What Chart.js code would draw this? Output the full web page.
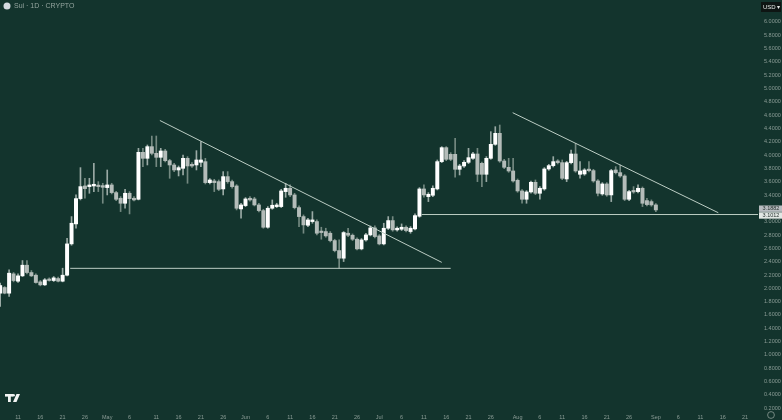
<!DOCTYPE html>
<html>
<head>
<meta charset="utf-8">
<script src="https://cdn.jsdelivr.net/npm/chart.js@4"></script>
<style>
html, body { margin: 0; padding: 0; background: #13342d; overflow: hidden; }
#wrap { width: 782px; height: 420px; }
/* the reference is a soft, rescaled screenshot */
#chart { filter: blur(0.4px); }
</style>
</head>
<body>
<div id="wrap"><canvas id="chart" width="782" height="420"></canvas></div>
<script>
// daily candles, first one is 7 Apr, day numbers count from 11 Apr
var firstDay = -4;
var opens = [1.927,2.012,1.927,2.217,2.107,2.187,2.347,2.237,2.197,2.097,2.052,2.137,2.117,2.147,2.107,2.197,2.667,2.967,3.347,3.537,3.527,3.537,3.547,3.542,3.512,3.552,3.437,3.352,3.277,3.427,3.352,3.337,4.042,3.952,4.127,4.027,3.967,4.062,3.917,3.852,3.777,3.802,3.952,3.862,3.852,3.892,3.902,3.587,3.612,3.602,3.492,3.677,3.602,3.537,3.192,3.242,3.352,3.342,3.252,3.167,2.917,3.202,3.227,3.227,3.452,3.502,3.402,3.212,3.077,2.947,3.002,3.002,2.852,2.852,2.827,2.717,2.567,2.452,2.827,2.797,2.737,2.592,2.727,2.802,2.907,2.787,2.667,2.902,3.017,2.877,2.887,2.917,2.852,2.892,3.082,3.492,3.377,3.397,3.492,3.902,4.112,4.012,4.012,3.787,3.837,3.892,3.952,4.017,3.877,3.712,3.952,4.162,4.327,3.912,3.817,3.762,3.622,3.462,3.337,3.447,3.592,3.427,3.492,3.792,3.842,3.912,3.887,3.642,3.887,4.017,3.712,3.717,3.787,3.767,3.612,3.417,3.567,3.402,3.777,3.737,3.687,3.337,3.467,3.452,3.502,3.317,3.302,3.252];
var closes = [2.042,1.927,2.227,2.117,2.187,2.347,2.237,2.187,2.087,2.052,2.127,2.117,2.157,2.107,2.197,2.667,2.977,3.347,3.527,3.497,3.552,3.562,3.527,3.517,3.552,3.437,3.337,3.277,3.427,3.347,3.327,4.042,3.952,4.127,4.027,3.967,4.062,3.917,3.852,3.777,3.812,3.952,3.837,3.837,3.927,3.927,3.587,3.627,3.587,3.487,3.677,3.602,3.527,3.202,3.252,3.342,3.327,3.252,3.167,2.917,3.202,3.247,3.252,3.462,3.502,3.402,3.212,3.077,2.952,3.027,3.027,2.827,2.837,2.787,2.717,2.567,2.452,2.837,2.797,2.737,2.592,2.727,2.802,2.907,2.777,2.667,2.902,3.017,2.877,2.902,2.917,2.867,2.902,3.092,3.492,3.402,3.412,3.502,3.902,4.112,3.937,3.937,3.787,3.837,3.892,3.962,4.017,3.712,3.712,3.952,4.162,4.327,3.912,3.817,3.762,3.612,3.462,3.337,3.447,3.592,3.427,3.502,3.792,3.842,3.902,3.887,3.652,3.887,4.017,3.762,3.762,3.777,3.767,3.612,3.427,3.567,3.402,3.767,3.737,3.687,3.337,3.452,3.447,3.502,3.277,3.257,3.252,3.177];
var highs = [2.077,2.027,2.277,2.237,2.217,2.417,2.417,2.267,2.217,2.117,2.147,2.157,2.177,2.167,2.302,2.752,3.077,3.402,3.812,3.652,3.652,3.877,3.602,3.577,3.777,3.577,3.457,3.377,3.487,3.452,3.377,4.102,4.102,4.152,4.287,4.287,4.102,4.087,3.937,3.877,3.837,4.002,3.977,3.887,4.067,4.202,3.952,3.647,3.637,3.627,3.752,3.752,3.627,3.557,3.277,3.362,3.377,3.367,3.277,3.187,3.227,3.327,3.277,3.487,3.577,3.552,3.427,3.237,3.102,3.052,3.152,3.027,2.917,2.902,2.852,2.737,2.727,2.852,2.902,2.817,2.757,2.747,2.827,2.937,2.937,2.807,2.977,3.077,3.077,2.922,2.967,2.937,2.927,3.117,3.512,3.552,3.437,3.537,3.927,4.127,4.127,4.037,4.252,3.862,3.917,4.102,4.042,4.102,3.897,3.977,4.352,4.427,4.452,3.937,3.952,3.952,3.642,3.482,3.467,3.612,3.627,3.527,3.812,3.862,3.977,3.932,3.927,3.907,4.077,4.177,3.902,3.797,3.902,3.787,3.632,3.587,3.587,3.787,3.827,3.852,3.707,3.472,3.527,3.552,3.522,3.352,3.327,3.272];
var lows = [1.727,1.917,1.877,2.097,2.087,2.177,2.217,2.177,2.077,2.037,2.042,2.107,2.102,2.097,2.097,2.187,2.647,2.902,3.327,3.352,3.427,3.452,3.452,3.277,3.402,3.417,3.317,3.152,3.202,3.117,3.312,3.327,3.827,3.852,4.002,3.827,3.827,3.897,3.652,3.752,3.687,3.702,3.577,3.817,3.777,3.827,3.567,3.567,3.452,3.467,3.402,3.577,3.502,3.177,3.052,3.227,3.307,3.237,3.147,2.902,2.902,3.187,3.212,3.212,3.367,3.377,3.192,2.927,2.827,2.927,2.977,2.802,2.737,2.767,2.697,2.547,2.302,2.402,2.777,2.717,2.577,2.577,2.707,2.787,2.757,2.652,2.652,2.882,2.857,2.857,2.867,2.847,2.827,2.877,3.067,3.367,3.302,3.377,3.477,3.887,3.917,3.917,3.667,3.702,3.817,3.872,3.937,3.602,3.527,3.602,3.937,4.147,3.892,3.797,3.742,3.592,3.442,3.277,3.277,3.427,3.407,3.337,3.472,3.772,3.822,3.867,3.632,3.602,3.867,3.742,3.652,3.697,3.747,3.592,3.387,3.397,3.382,3.302,3.717,3.667,3.317,3.317,3.427,3.432,3.227,3.237,3.232,3.152];

var yTicks = [6,5.8,5.6,5.4,5.2,5,4.8,4.6,4.4,4.2,4,3.8,3.6,3.4,3,2.8,2.6,2.4,2.2,2,1.8,1.6,1.4,1.2,1,0.8,0.6,0.4,0.2];
var xTickDays = [0,5,10,15,20,25,31,36,41,46,51,56,61,66,71,76,81,86,91,96,101,106,112,117,122,127,132,137,143,148,153,158,163];
var xTickLabels = ['11','16','21','26','May','6','11','16','21','26','Jun','6','11','16','21','26','Jul','6','11','16','21','26','Aug','6','11','16','21','26','Sep','6','11','16','21'];

// drawn lines as [day, price]
var fallingLine1 = [[31.8,4.52],[95,2.39]];
var supportLine1 = [[11.7,2.30],[97,2.30]];
var supportLine2 = [[90.5,3.108],[166,3.108]];
var fallingLine2 = [[110.9,4.637],[157,3.135]];

var priceTags = [3.1882, 3.1012];

var bg = '#13342d';
var upColor = '#ffffff';
var downColor = '#b4bcb9';
var tickColor = '#8b9c96';

function lineDataset(points) {
    return {
        type: 'line',
        data: points.map(function(p) { return { x: p[0], y: p[1] }; }),
        borderColor: '#bccdc4',
        borderWidth: 1,
        pointRadius: 0,
        order: 1
    };
}

// labels may sit on the plot edge, so no room is kept for them
function noPadding(scale) {
    scale.paddingLeft = 0;
    scale.paddingRight = 0;
    scale.paddingTop = 0;
    scale.paddingBottom = 0;
}

var wickData = highs.map(function(h, i) { return { x: firstDay + i, y: [lows[i], h] }; });
var bodyData = opens.map(function(o, i) { return { x: firstDay + i, y: [o, closes[i]] }; });
var bodyColors = opens.map(function(o, i) { return closes[i] >= o ? upColor : downColor; });
var wickColors = opens.map(function(o, i) { return closes[i] >= o ? 'rgba(200,210,205,0.75)' : 'rgba(150,165,158,0.75)'; });

// header text, price tags, logo and the small icon are not part of any scale
var decorations = {
    id: 'decorations',
    beforeDraw: function(chart) {
        var c = chart.ctx;
        c.save();
        c.fillStyle = bg;
        c.fillRect(0, 0, chart.width, chart.height);
        c.restore();
    },
    afterDraw: function(chart) {
        var c = chart.ctx;
        var y = chart.scales.y;
        c.save();
        c.textBaseline = 'middle';

        // title
        c.beginPath();
        c.arc(7, 6, 3.5, 0, Math.PI * 2);
        c.fillStyle = '#d5dbe0';
        c.fill();
        c.font = '7px "Liberation Sans"';
        c.fillStyle = '#93a49e';
        c.textAlign = 'left';
        c.fillText('Sui \u00b7 1D \u00b7 CRYPTO', 14, 6.5);

        // currency button
        c.fillStyle = '#0e1513';
        c.fillRect(761, 2, 20, 10);
        c.fillStyle = '#e4e8e6';
        c.font = '6px "Liberation Sans"';
        c.fillText('USD \u25be', 763, 7);

        // price tags
        var tagFill = ['#b8bcc0', '#e2e7e4'];
        c.font = '5.5px "Liberation Sans"';
        c.textAlign = 'center';
        priceTags.forEach(function(v, i) {
            var py = i === 0 ? y.getPixelForValue(v) - 0.5 : y.getPixelForValue(v) + 0.5;
            c.fillStyle = tagFill[i];
            c.fillRect(759, py - 3.2, 23, 6.4);
            c.fillStyle = '#27332f';
            c.fillText(v.toFixed(4), 771, py);
        });

        // logo
        c.fillStyle = '#f2f4f3';
        c.fillRect(5, 394, 8, 2.6);
        c.fillRect(8, 394, 2.8, 8);
        c.beginPath();
        c.arc(13.6, 395.3, 1.3, 0, Math.PI * 2);
        c.fill();
        c.beginPath();
        c.moveTo(16.5, 394);
        c.lineTo(20, 394);
        c.lineTo(16.5, 402);
        c.lineTo(13, 402);
        c.closePath();
        c.fill();

        // settings icon
        c.strokeStyle = '#8b9c96';
        c.lineWidth = 0.8;
        c.beginPath();
        c.arc(771, 415, 3.4, 0, Math.PI * 2);
        c.stroke();
        c.restore();
    }
};

new Chart(document.getElementById('chart').getContext('2d'), {
    type: 'bar',
    data: {
        datasets: [
            { data: wickData, backgroundColor: wickColors, barThickness: 1, grouped: false, order: 3 },
            { data: bodyData, backgroundColor: bodyColors, barThickness: 3.3, grouped: false, minBarLength: 1.5, order: 2 },
            lineDataset(fallingLine1),
            lineDataset(supportLine1),
            lineDataset(supportLine2),
            lineDataset(fallingLine2)
        ]
    },
    options: {
        responsive: false,
        animation: false,
        layout: { padding: 0 },
        plugins: { legend: { display: false }, tooltip: { enabled: false } },
        scales: {
            x: {
                type: 'linear',
                offset: false,
                min: -4.04,
                max: 165.9,
                afterFit: function(scale) { scale.height = 10; noPadding(scale); },
                afterBuildTicks: function(scale) {
                    scale.ticks = xTickDays.map(function(d) { return { value: d }; });
                },
                grid: { display: false, drawTicks: false, offset: false },
                border: { display: false },
                ticks: {
                    autoSkip: false,
                    maxRotation: 0,
                    padding: 4,
                    color: tickColor,
                    font: { family: 'Liberation Sans', size: 5.5 },
                    callback: function(v) { return xTickLabels[xTickDays.indexOf(v)]; }
                }
            },
            y: {
                position: 'right',
                min: 0.173,
                max: 6.329,
                afterFit: function(scale) { scale.width = 24; noPadding(scale); },
                afterBuildTicks: function(scale) {
                    scale.ticks = yTicks.map(function(v) { return { value: v }; });
                },
                grid: { display: false, drawTicks: false },
                border: { display: false },
                ticks: {
                    autoSkip: false,
                    padding: 6,
                    color: tickColor,
                    font: { family: 'Liberation Sans', size: 5.5 },
                    callback: function(v) { return v.toFixed(4); }
                }
            }
        }
    },
    plugins: [decorations]
});
</script>
</body>
</html>
